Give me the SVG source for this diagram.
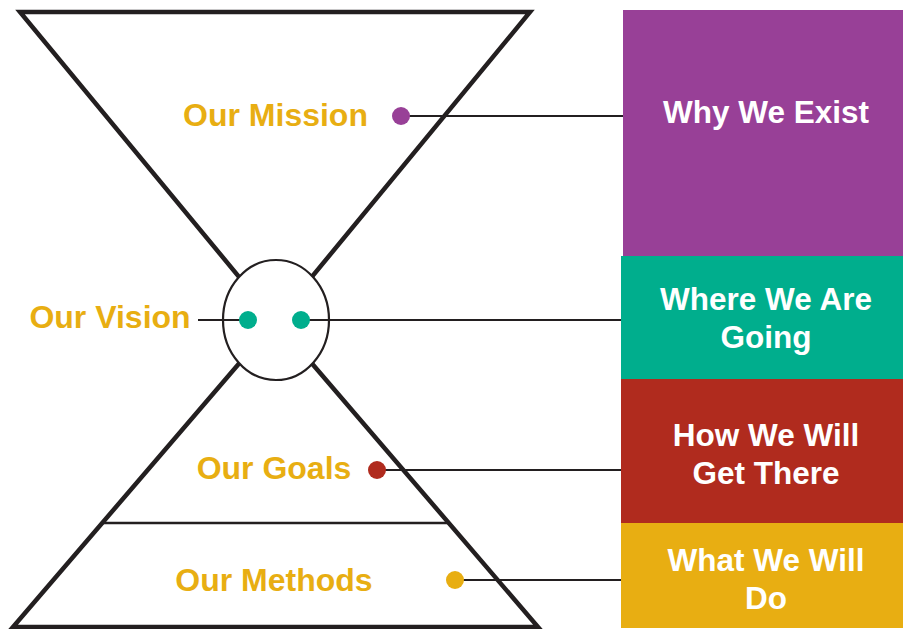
<svg xmlns="http://www.w3.org/2000/svg" width="903" height="629" viewBox="0 0 903 629">
<style>
.tri{fill:none;stroke:#231F20;stroke-width:4.5;stroke-linejoin:miter}
.conn{stroke:#231F20;stroke-width:2.2;fill:none}
.lbl{font-family:"Liberation Sans",Arial,sans-serif;font-weight:bold;font-size:32px;fill:#E8AE12;text-anchor:middle}
.box{font-family:"Liberation Sans",Arial,sans-serif;font-weight:bold;font-size:31.5px;fill:#FFFFFF;text-anchor:middle}
</style>
<rect width="903" height="629" fill="#FFFFFF"/>
<g id="hourglass">
<polygon class="tri" points="20,12 530,12 275.5,321"/>
<polygon class="tri" points="13,627 538,627 275.5,321"/>
<line x1="102" y1="523" x2="449" y2="523" stroke="#231F20" stroke-width="2.5"/>
<ellipse cx="276" cy="320" rx="53" ry="60" fill="#FFFFFF" stroke="#231F20" stroke-width="2.2"/>
</g>
<g id="connectors">
<line class="conn" x1="401" y1="116" x2="623" y2="116"/>
<line class="conn" x1="198" y1="320" x2="248" y2="320"/>
<line class="conn" x1="301" y1="320" x2="622" y2="320"/>
<line class="conn" x1="377" y1="470" x2="622" y2="470"/>
<line class="conn" x1="455" y1="580" x2="622" y2="580"/>
</g>
<g id="mission">
<text class="lbl" x="275.5" y="126">Our Mission</text>
<circle cx="401" cy="116" r="9" fill="#984097"/>
</g>
<g id="vision">
<text class="lbl" x="110" y="328">Our Vision</text>
<circle cx="248" cy="320" r="9" fill="#00AE8D"/>
<circle cx="301" cy="320" r="9" fill="#00AE8D"/>
</g>
<g id="goals">
<text class="lbl" x="274" y="479">Our Goals</text>
<circle cx="377" cy="470" r="9" fill="#B02B1E"/>
</g>
<g id="methods">
<text class="lbl" x="274" y="591">Our Methods</text>
<circle cx="455" cy="580" r="9" fill="#E8AE12"/>
</g>
<g id="why">
<rect x="623" y="10" width="280" height="247" fill="#984097"/>
<text class="box" x="766" y="123">Why We Exist</text>
</g>
<g id="where">
<rect x="621" y="256" width="282" height="123" fill="#00AE8D"/>
<text class="box" x="766" y="310">Where We Are</text>
<text class="box" x="766" y="348">Going</text>
</g>
<g id="how">
<rect x="621" y="379" width="282" height="144" fill="#B02B1E"/>
<text class="box" x="766" y="446">How We Will</text>
<text class="box" x="766" y="484">Get There</text>
</g>
<g id="what">
<rect x="621" y="523" width="282" height="105" fill="#E8AE12"/>
<text class="box" x="766" y="571">What We Will</text>
<text class="box" x="766" y="609">Do</text>
</g>
</svg>
